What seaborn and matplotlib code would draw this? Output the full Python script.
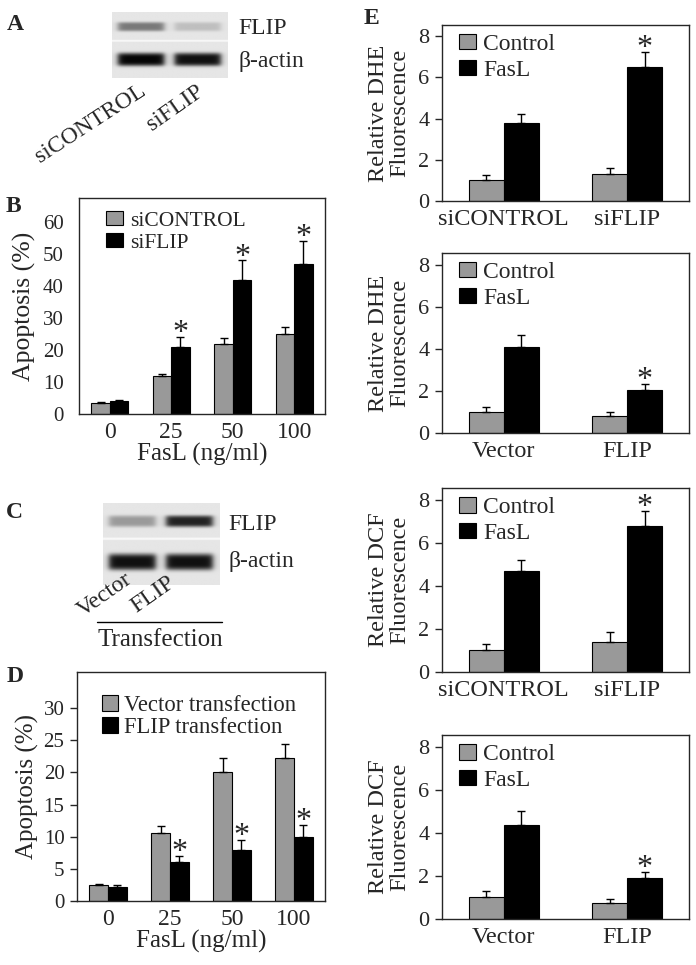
import matplotlib
matplotlib.use("Agg")
import matplotlib.pyplot as plt
from matplotlib.lines import Line2D
import seaborn as sns
import numpy as np
import pandas as pd

# ---- data ----
# panel B: apoptosis after siRNA
doses = ["0", "25", "50", "100"]
b_sicontrol = [3.5, 12, 22, 25]
b_sicontrol_err = [0.3, 0.6, 1.8, 2.2]
b_siflip = [4, 21, 42, 47]
b_siflip_err = [0.3, 3, 6, 7]

# panel D: apoptosis after transfection
d_vector = [2.5, 10.5, 20, 22.2]
d_vector_err = [0.2, 1.2, 2.2, 2.2]
d_flip = [2.1, 6, 8, 10]
d_flip_err = [0.4, 1.0, 1.5, 1.8]

stars_bd = [False, True, True, True]

# panel E (four plots)
si_groups = ["siCONTROL", "siFLIP"]
tf_groups = ["Vector", "FLIP"]
e1_control, e1_control_err = [1.0, 1.3], [0.25, 0.3]
e1_fasl, e1_fasl_err = [3.8, 6.5], [0.45, 0.75]
e2_control, e2_control_err = [1.0, 0.8], [0.25, 0.2]
e2_fasl, e2_fasl_err = [4.1, 2.05], [0.55, 0.3]
e3_control, e3_control_err = [1.0, 1.4], [0.3, 0.45]
e3_fasl, e3_fasl_err = [4.7, 6.8], [0.5, 0.7]
e4_control, e4_control_err = [1.0, 0.75], [0.3, 0.2]
e4_fasl, e4_fasl_err = [4.35, 1.9], [0.65, 0.3]
stars_e = [False, True]

# western blot band darkness (lane 1, lane 2)
blot_a_flip = [0.5, 0.18]
blot_a_actin = [1.0, 0.95]
blot_c_flip = [0.35, 0.9]
blot_c_actin = [0.95, 0.95]

GRAY = "#999999"
W, H = 696, 965

sns.set_style("ticks")
plt.rcParams["font.family"] = ["Liberation Serif", "DejaVu Serif"]
plt.rcParams["axes.linewidth"] = 1.0

fig = plt.figure(figsize=(W / 100, H / 100), dpi=100)


def px(x, y):
    return x / W, 1 - y / H


def box(l, t, r, b):
    return [l / W, 1 - b / H, (r - l) / W, (b - t) / H]


def bar_panel(ax, groups, names, vals, errs, stars, ymax, yticks, width,
              tick_fs, leg_fs, leg_anchor, handle, labelspacing):
    df = pd.DataFrame({
        "group": groups * 2,
        "cond": [names[0]] * len(groups) + [names[1]] * len(groups),
        "value": vals[0] + vals[1],
    })
    sns.barplot(data=df, x="group", y="value", hue="cond",
                palette=[GRAY, "black"], saturation=1, width=width,
                edgecolor="black", linewidth=0.8, errorbar=None, ax=ax)
    bars = list(ax.containers[:2])
    tops = []
    for cont, err in zip(bars, errs):
        xs = [p.get_x() + p.get_width() / 2 for p in cont]
        hs = [p.get_height() for p in cont]
        ax.errorbar(xs, hs, yerr=[np.zeros(len(err)), err], fmt="none",
                    ecolor="black", elinewidth=1, capsize=3, capthick=1)
        tops.append((xs, [h + e for h, e in zip(hs, err)]))
    xs, ts = tops[1]
    for x, t, s in zip(xs, ts, stars):
        if s:
            ax.annotate("*", (x, t), xytext=(0, -8), textcoords="offset points",
                        ha="center", va="bottom", fontsize=23)
    ax.set_xlim(-0.5, len(groups) - 0.5)
    ax.set_ylim(0, ymax)
    ax.set_yticks(yticks)
    ax.set_xlabel("")
    ax.set_ylabel("")
    for s in ax.spines.values():
        s.set_visible(True)
        s.set_linewidth(1.0)
    ax.tick_params(axis="x", length=0, labelsize=tick_fs + 2, pad=6)
    ax.tick_params(axis="y", length=5, width=1, labelsize=tick_fs, pad=4)
    h, l = ax.get_legend_handles_labels()
    ax.legend(h, l, loc="upper left", bbox_to_anchor=leg_anchor, frameon=False,
              fontsize=leg_fs, handlelength=handle[0], handleheight=handle[1],
              handletextpad=0.3, labelspacing=labelspacing, borderpad=0,
              borderaxespad=0)


def blot(rect, flip, actin):
    ax = fig.add_axes(rect)
    nx, ny = 240, 140
    xx = np.linspace(0, 1, nx)
    yy = np.linspace(0, 1, ny)
    img = np.full((ny, nx), 0.9)
    sep = 0.44
    img[int(sep * ny) - 2:int(sep * ny) + 2, :] = 0.97
    for lane_c, fdark, adark in zip([0.25, 0.74], flip, actin):
        hx = 1 / (1 + np.exp((np.abs(xx - lane_c) - 0.2) / 0.015))
        fy = np.exp(-((yy - 0.22) / 0.07) ** 4)
        ay = np.exp(-((yy - 0.72) / 0.1) ** 4)
        img -= fdark * np.outer(fy, hx) * 0.85
        img -= adark * np.outer(ay, hx) * 0.88
    ax.imshow(np.clip(img, 0, 1), cmap="gray", vmin=0, vmax=1, aspect="auto",
              interpolation="bilinear")
    ax.set_axis_off()


# ---- panel A ----
fig.text(*px(7, 24), "A", fontsize=17, fontweight="bold", va="center")
blot(box(112, 12, 228, 78), blot_a_flip, blot_a_actin)
fig.text(*px(238, 28), "FLIP", fontsize=17, va="center")
fig.text(*px(238, 61), "β-actin", fontsize=17, va="center")
fig.text(*px(147, 94), "siCONTROL", fontsize=17, rotation=33, ha="right",
         va="baseline", rotation_mode="anchor")
fig.text(*px(205, 94), "siFLIP", fontsize=17, rotation=35, ha="right",
         va="baseline", rotation_mode="anchor")

# ---- panel B ----
fig.text(*px(6, 207), "B", fontsize=17, fontweight="bold", va="center")
axb = fig.add_axes(box(79, 198, 325, 414))
bar_panel(axb, doses, ["siCONTROL", "siFLIP"], [b_sicontrol, b_siflip],
          [b_sicontrol_err, b_siflip_err], stars_bd, 67.5, range(0, 61, 10),
          0.6, 15, 15.5, (0.11, 0.94), (0.8, 0.65), 0.1)
axb.tick_params(axis="y", length=0, pad=11)
axb.set_xlabel("FasL (ng/ml)", fontsize=18, labelpad=0)
axb.set_ylabel("Apoptosis (%)", fontsize=18.5, labelpad=5)

# ---- panel C ----
fig.text(*px(6, 512), "C", fontsize=17, fontweight="bold", va="center")
blot(box(103, 503, 220, 585), blot_c_flip, blot_c_actin)
fig.text(*px(228, 524), "FLIP", fontsize=17, va="center")
fig.text(*px(228, 561), "β-actin", fontsize=17, va="center")
fig.text(*px(133, 582), "Vector", fontsize=17, rotation=35, ha="right",
         va="baseline", rotation_mode="anchor")
fig.text(*px(176, 585), "FLIP", fontsize=17, rotation=35, ha="right",
         va="baseline", rotation_mode="anchor")
fig.add_artist(Line2D([97 / W, 222 / W], [1 - 622 / H, 1 - 622 / H],
                      color="black", lw=1))
fig.text(*px(160, 640), "Transfection", fontsize=18, ha="center", va="center")

# ---- panel D ----
fig.text(*px(7, 677), "D", fontsize=17, fontweight="bold", va="center")
axd = fig.add_axes(box(77, 672, 325, 901))
bar_panel(axd, doses, ["Vector transfection", "FLIP transfection"],
          [d_vector, d_flip], [d_vector_err, d_flip_err], stars_bd, 35.6,
          range(0, 31, 5), 0.6, 15, 16.3, (0.1, 0.9), (0.7, 0.7), 0.05)
axd.set_xlabel("FasL (ng/ml)", fontsize=18, labelpad=0)
axd.set_ylabel("Apoptosis (%)", fontsize=18, labelpad=3)

# ---- panel E ----
fig.text(*px(364, 19), "E", fontsize=17, fontweight="bold", va="center")
e_panels = [
    ((442, 25, 689, 201), si_groups, e1_control, e1_control_err, e1_fasl,
     e1_fasl_err, "Relative DHE\nFluorescence"),
    ((442, 253, 689, 433), tf_groups, e2_control, e2_control_err, e2_fasl,
     e2_fasl_err, "Relative DHE\nFluorescence"),
    ((442, 488, 689, 672), si_groups, e3_control, e3_control_err, e3_fasl,
     e3_fasl_err, "Relative DCF\nFluorescence"),
    ((442, 735, 689, 919), tf_groups, e4_control, e4_control_err, e4_fasl,
     e4_fasl_err, "Relative DCF\nFluorescence"),
]
for (l, t, r, b), groups, c, ce, f, fe, ylab in e_panels:
    ax = fig.add_axes(box(l, t, r, b))
    bar_panel(ax, groups, ["Control", "FasL"], [c, f], [ce, fe], stars_e,
              8.55, range(0, 9, 2), 0.57, 16, 17, (0.07, 0.95), (0.7, 0.62),
              0.2)
    ax.tick_params(axis="x", labelsize=17.5)
    ax.set_ylabel(ylab, fontsize=17.5, linespacing=1.0, labelpad=6)

fig.savefig("out.png", dpi=100)
